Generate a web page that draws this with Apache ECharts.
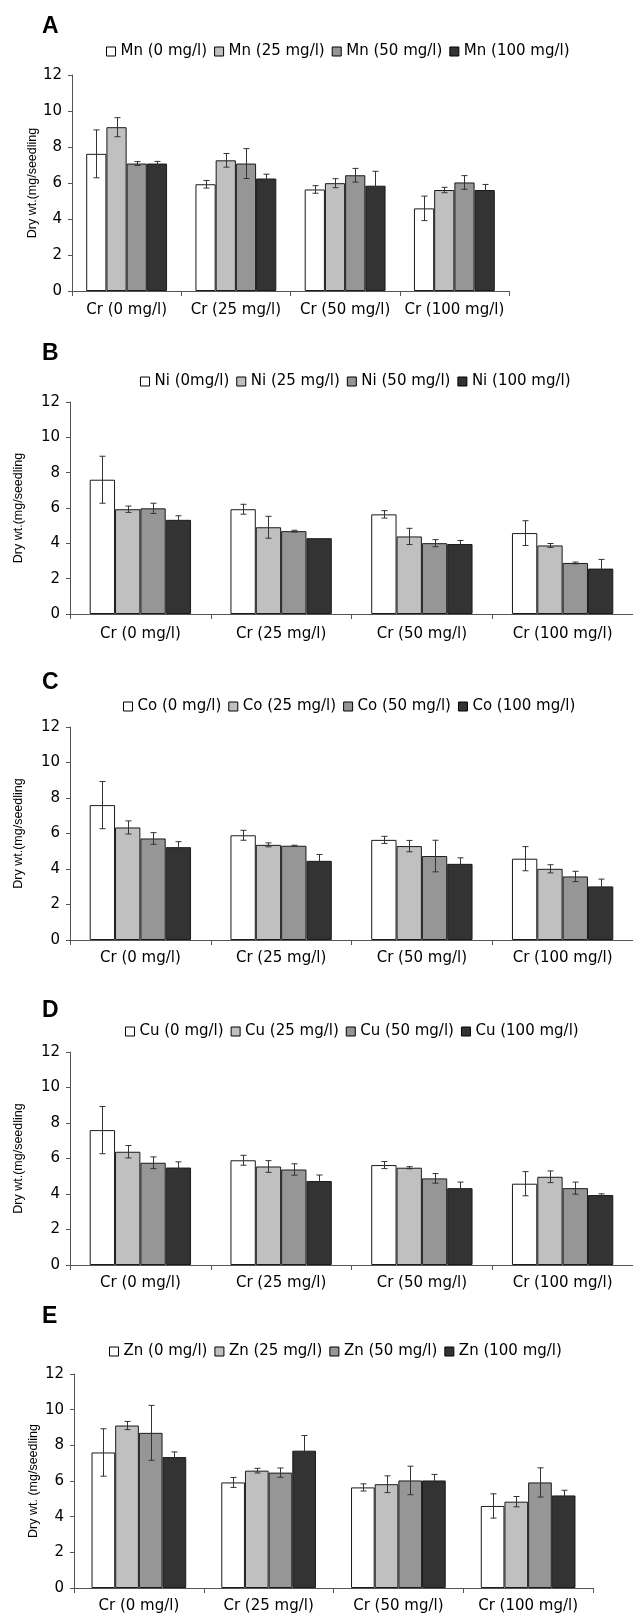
<!DOCTYPE html>
<html>
<head>
<meta charset="utf-8">
<script src="https://cdn.jsdelivr.net/npm/echarts@6/dist/echarts.min.js"></script>
<style>
html,body{margin:0;padding:0;background:#fff;}
#chart{width:633px;height:1614px;}
</style>
</head>
<body>
<div id="chart"></div>
<script>
// ---- data ----
const categories = ['Cr (0 mg/l)', 'Cr (25 mg/l)', 'Cr (50 mg/l)', 'Cr (100 mg/l)'];
const yTickMin = 0, yTickMax = 12, yTickStep = 2;

// Panel A: Mn
const mnNames = ['Mn (0 mg/l)', 'Mn (25 mg/l)', 'Mn (50 mg/l)', 'Mn (100 mg/l)'];
const mn0 = [7.62, 5.93, 5.64, 4.59];
const mn25 = [9.10, 7.26, 5.99, 5.61];
const mn50 = [7.08, 7.08, 6.43, 6.03];
const mn100 = [7.08, 6.25, 5.85, 5.61];
const mn0Err = [1.33, 0.21, 0.21, 0.68];
const mn25Err = [0.53, 0.38, 0.25, 0.15];
const mn50Err = [0.11, 0.83, 0.38, 0.38];
const mn100Err = [0.12, 0.24, 0.80, 0.31];

// Panel B: Ni
const niNames = ['Ni (0mg/l)', 'Ni (25 mg/l)', 'Ni (50 mg/l)', 'Ni (100 mg/l)'];
const ni0 = [7.60, 5.93, 5.64, 4.58];
const ni25 = [5.93, 4.91, 4.39, 3.88];
const ni50 = [5.98, 4.69, 4.01, 2.89];
const ni100 = [5.33, 4.29, 3.96, 2.57];
const ni0Err = [1.33, 0.28, 0.21, 0.70];
const ni25Err = [0.18, 0.62, 0.46, 0.11];
const ni50Err = [0.29, 0.05, 0.20, 0.05];
const ni100Err = [0.23, 0, 0.20, 0.52];

// Panel C: Co
const coNames = ['Co (0 mg/l)', 'Co (25 mg/l)', 'Co (50 mg/l)', 'Co (100 mg/l)'];
const co0 = [7.60, 5.90, 5.64, 4.58];
const co25 = [6.34, 5.36, 5.29, 4.01];
const co50 = [5.72, 5.31, 4.73, 3.58];
const co100 = [5.23, 4.46, 4.29, 3.02];
const co0Err = [1.33, 0.28, 0.20, 0.68];
const co25Err = [0.37, 0.11, 0.32, 0.23];
const co50Err = [0.33, 0.03, 0.89, 0.29];
const co100Err = [0.31, 0.36, 0.34, 0.41];

// Panel D: Cu
const cuNames = ['Cu (0 mg/l)', 'Cu (25 mg/l)', 'Cu (50 mg/l)', 'Cu (100 mg/l)'];
const cu0 = [7.60, 5.90, 5.63, 4.58];
const cu25 = [6.38, 5.55, 5.48, 4.97];
const cu50 = [5.76, 5.38, 4.88, 4.33];
const cu100 = [5.49, 4.73, 4.33, 3.94];
const cu0Err = [1.33, 0.28, 0.20, 0.68];
const cu25Err = [0.35, 0.33, 0.06, 0.33];
const cu50Err = [0.33, 0.32, 0.27, 0.34];
const cu100Err = [0.32, 0.34, 0.34, 0.07];

// Panel E: Zn
const znNames = ['Zn (0 mg/l)', 'Zn (25 mg/l)', 'Zn (50 mg/l)', 'Zn (100 mg/l)'];
const zn0 = [7.60, 5.92, 5.64, 4.60];
const zn25 = [9.11, 6.58, 5.82, 4.84];
const zn50 = [8.70, 6.47, 6.03, 5.92];
const zn100 = [7.34, 7.70, 6.03, 5.19];
const zn0Err = [1.33, 0.28, 0.20, 0.68];
const zn25Err = [0.23, 0.13, 0.47, 0.29];
const zn50Err = [1.54, 0.26, 0.80, 0.82];
const zn100Err = [0.29, 0.85, 0.34, 0.29];

const yNameAD = 'Dry wt.(mg/seedling';
const yNameE = 'Dry wt. (mg/seedling';
const panelLetters = ['A', 'B', 'C', 'D', 'E'];

// ---- layout / style ----
const fills = ['#ffffff', '#c0c0c0', '#969696', '#333333'];
const layouts = [
  {grid:{left:72, top:75, width:437, height:216}, gap:0.26, legendLeft:101, legendTop:39, letterTop:10, nameGap:33, labelMargin:12},
  {grid:{left:70, top:402, width:568, height:212}, gap:0.28, legendLeft:135, legendTop:369, letterTop:337, nameGap:45, labelMargin:13},
  {grid:{left:70, top:727, width:568, height:213}, gap:0.28, legendLeft:118, legendTop:694, letterTop:666, nameGap:45, labelMargin:11},
  {grid:{left:70, top:1052, width:568, height:213}, gap:0.28, legendLeft:120, legendTop:1019, letterTop:994, nameGap:45, labelMargin:11},
  {grid:{left:74, top:1374, width:519, height:215}, gap:0.27, legendLeft:104, legendTop:1339, letterTop:1300, nameGap:34, labelMargin:11}
];

const panelsData = [
  {names: mnNames, vals: [mn0, mn25, mn50, mn100], errs: [mn0Err, mn25Err, mn50Err, mn100Err], yName: yNameAD},
  {names: niNames, vals: [ni0, ni25, ni50, ni100], errs: [ni0Err, ni25Err, ni50Err, ni100Err], yName: yNameAD},
  {names: coNames, vals: [co0, co25, co50, co100], errs: [co0Err, co25Err, co50Err, co100Err], yName: yNameAD},
  {names: cuNames, vals: [cu0, cu25, cu50, cu100], errs: [cu0Err, cu25Err, cu50Err, cu100Err], yName: yNameAD},
  {names: znNames, vals: [zn0, zn25, zn50, zn100], errs: [zn0Err, zn25Err, zn50Err, zn100Err], yName: yNameE}
];

const FONT = 'DejaVu Sans';
const axisColor = '#555555';

const option = {
  animation: false,
  backgroundColor: '#ffffff',
  title: [], grid: [], xAxis: [], yAxis: [], legend: [], series: []
};

panelsData.forEach((p, pi) => {
  const L = layouts[pi];
  option.title.push({
    text: panelLetters[pi], left: 37, top: L.letterTop,
    textStyle: {fontFamily: 'Liberation Sans', fontWeight: 'bold', fontSize: 23, color: '#000'}
  });
  option.grid.push(Object.assign({containLabel: false}, L.grid));
  option.xAxis.push({
    type: 'category', gridIndex: pi, data: categories,
    axisLine: {lineStyle: {color: axisColor, width: 1}},
    axisTick: {show: true, length: 5, lineStyle: {color: axisColor}},
    axisLabel: {fontFamily: FONT, fontSize: 15, color: '#000', margin: L.labelMargin, interval: 0},
    splitLine: {show: false}
  });
  option.yAxis.push({
    type: 'value', gridIndex: pi, min: yTickMin, max: yTickMax, interval: yTickStep,
    name: p.yName, nameLocation: 'middle', nameGap: L.nameGap, nameMoveOverlap: false,
    nameTextStyle: {fontFamily: 'Liberation Sans', fontSize: 12.5, color: '#000'},
    axisLine: {show: true, lineStyle: {color: axisColor, width: 1}},
    axisTick: {show: true, length: 4, lineStyle: {color: axisColor}},
    axisLabel: {fontFamily: FONT, fontSize: 15, color: '#000', margin: 10},
    splitLine: {show: false}
  });
  option.legend.push({
    data: p.names, left: L.legendLeft, top: L.legendTop, orient: 'horizontal',
    itemWidth: 9, itemHeight: 9, itemGap: 7, icon: 'rect',
    itemStyle: {borderColor: '#000', borderWidth: 1},
    textStyle: {fontFamily: FONT, fontSize: 15, color: '#000'},
    selectedMode: false
  });
  p.names.forEach((nm, k) => {
    option.series.push({
      type: 'bar', name: nm, xAxisIndex: pi, yAxisIndex: pi,
      data: p.vals[k], barGap: 0, barCategoryGap: (L.gap * 100) + '%',
      itemStyle: {color: fills[k], borderColor: '#1a1a1a', borderWidth: 1},
      emphasis: {disabled: true}
    });
  });
  p.names.forEach((nm, k) => {
    const d = p.vals[k].map((v, i) => [i, v, p.errs[k][i]]);
    option.series.push({
      type: 'custom', name: nm + ' err', xAxisIndex: pi, yAxisIndex: pi, z: 5,
      data: d, encode: {x: 0, y: 1}, silent: true,
      renderItem: function (params, api) {
        const cat = api.value(0), v = api.value(1), e = api.value(2);
        if (!e) return null;
        const c = api.coord([cat, v]);
        const band = api.size([1, 0])[0];
        const bw = band * (1 - L.gap) / 4;
        const x = Math.round(c[0] + (k - 1.5) * bw) + 0.5;
        const yt = api.coord([cat, v + e])[1];
        const yb = api.coord([cat, v - e])[1];
        const st = {stroke: '#333', lineWidth: 1};
        return {type: 'group', children: [
          {type: 'line', shape: {x1: x, y1: yt, x2: x, y2: yb}, style: st},
          {type: 'line', shape: {x1: x - 3, y1: yt, x2: x + 3, y2: yt}, style: st},
          {type: 'line', shape: {x1: x - 3, y1: yb, x2: x + 3, y2: yb}, style: st}
        ]};
      }
    });
  });
});

const chart = echarts.init(document.getElementById('chart'), null, {renderer: 'canvas'});
chart.setOption(option);
</script>
</body>
</html>
